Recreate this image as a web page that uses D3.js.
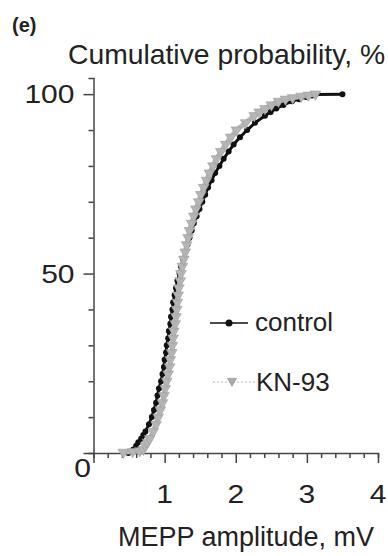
<!DOCTYPE html>
<html>
<head>
<meta charset="utf-8">
<script src="https://cdn.jsdelivr.net/npm/d3@7"></script>
<style>
    body { margin: 0; background: #fff; }
    svg text { font-family: "Liberation Sans", Arial, sans-serif; fill: #222; }
</style>
</head>
<body>
<div id="chart"></div>
<script>
/*
 * MEPP amplitude (mV) and cumulative probability (%), control.
 */
var controlAmplitude = [0.49, 0.56, 0.60, 0.63, 0.67, 0.70, 0.73, 0.78, 0.82, 0.85,
    0.88, 0.90, 0.92, 0.95, 0.97, 0.99, 1.00, 1.02, 1.03, 1.05,
    1.06, 1.08, 1.09, 1.11, 1.12, 1.14, 1.16, 1.18, 1.21, 1.23,
    1.26, 1.29, 1.32, 1.35, 1.38, 1.41, 1.45, 1.49, 1.53, 1.57,
    1.61, 1.66, 1.71, 1.77, 1.83, 1.90, 1.97, 2.06, 2.16, 2.27,
    2.41, 2.49, 2.57, 2.67, 2.79, 2.89, 2.99, 3.07, 3.12, 3.50];
var controlPercent = [0, 1, 2, 3, 4, 5, 6, 8, 10, 12,
    14, 16, 18, 20, 22, 24, 26, 28, 30, 32,
    34, 36, 38, 40, 42, 44, 46, 48, 50, 52,
    54, 56, 58, 60, 62, 64, 66, 68, 70, 72,
    74, 76, 78, 80, 82, 84, 86, 88, 90, 92,
    94, 95, 96, 97, 98, 98.6, 99.2, 99.6, 99.9, 100];
/*
 * Same for KN-93.
 */
var kn93Amplitude = [0.42, 0.55, 0.65, 0.70, 0.73, 0.76, 0.79, 0.84, 0.88, 0.91,
    0.94, 0.97, 0.99, 1.01, 1.03, 1.05, 1.07, 1.08, 1.10, 1.11,
    1.12, 1.13, 1.15, 1.16, 1.17, 1.18, 1.19, 1.20, 1.22, 1.23,
    1.25, 1.27, 1.29, 1.31, 1.33, 1.35, 1.38, 1.41, 1.44, 1.48,
    1.51, 1.55, 1.59, 1.63, 1.68, 1.73, 1.79, 1.86, 1.93, 2.01,
    2.14, 2.26, 2.33, 2.41, 2.50, 2.60, 2.70, 2.80, 2.92, 3.02, 3.12];
var kn93Percent = [0.2, 0.4, 0.6, 1, 2, 3, 4, 6, 8, 10,
    12, 14, 16, 18, 20, 22, 24, 26, 28, 30,
    32, 34, 36, 38, 40, 42, 44, 46, 48, 50,
    52, 54, 56, 58, 60, 62, 64, 66, 68, 70,
    72, 74, 76, 78, 80, 82, 84, 86, 88, 90,
    92, 94, 95, 96, 97, 98, 98.6, 99, 99.4, 99.7, 100];

var xTicks = [1, 2, 3, 4];
var yTicks = [0, 50, 100];
var seriesNames = ['control', 'KN-93'];


function CumulativeChart() {
    this._width = 388;
    this._height = 556;
    this._xScale = d3.scaleLinear().domain([0, 4]).range([93.5, 378]);
    this._yScale = d3.scaleLinear().domain([0, 104.5]).range([453, 78]);
    this._line = d3.line()
        .x(d => this._xScale(d.x))
        .y(d => this._yScale(d.y));
    this._triangle = d3.symbol().type(d3.symbolTriangle).size(50);
    this._legendTriangle = d3.symbol().type(d3.symbolTriangle).size(38);
}


CumulativeChart.prototype._zip = function(xs, ys) {

    return xs.map((x, i) => ({x: x, y: ys[i]}));
};


CumulativeChart.prototype.renderTo = function(selection) {

    var x = this._xScale, y = this._yScale;

    this._svg = d3.select(selection).append('svg')
        .attr('width', this._width)
        .attr('height', this._height);
    /*
     * Panel letter and axis titles.
     */
    this._svg.append('text')
        .attr('x', 12).attr('y', 32)
        .attr('font-size', 20).attr('font-weight', 'bold')
        .text('(e)');

    this._svg.append('text')
        .attr('x', 68).attr('y', 64)
        .attr('font-size', 28.3)
        .text('Cumulative probability, %');

    this._svg.append('text')
        .attr('x', 118).attr('y', 546)
        .attr('font-size', 27)
        .text('MEPP amplitude, mV');
    /*
     * Axes.
     */
    var xAxis = d3.axisBottom(x)
        .tickValues(d3.range(0, 4.01, 0.2))
        .tickSize(5)
        .tickFormat('');

    var gx = this._svg.append('g')
        .attr('transform', 'translate(0,' + y(0) + ')')
        .call(xAxis);
    gx.selectAll('.tick line')
        .attr('y2', d => Math.abs(d - Math.round(d)) < 1e-6 ? 10 : 5);

    gx.selectAll('.xlabel')
        .data(xTicks)
        .enter().append('text')
        .attr('class', 'xlabel')
        .attr('text-anchor', 'middle')
        .attr('font-size', 25)
        .attr('transform', d => 'translate(' + x(d) + ',50) scale(1.2,1)')
        .text(d => d);

    var yAxis = d3.axisLeft(y)
        .tickValues(d3.range(0, 101, 10))
        .tickSize(5)
        .tickFormat('');

    var gy = this._svg.append('g')
        .attr('transform', 'translate(' + x(0) + ',0)')
        .call(yAxis);
    gy.selectAll('.tick line')
        .attr('x2', d => d % 50 === 0 ? -10 : -5);

    gy.selectAll('.ylabel')
        .data(yTicks)
        .enter().append('text')
        .attr('class', 'ylabel')
        .attr('text-anchor', d => d === 0 ? 'middle' : 'end')
        .attr('font-size', 25)
        .attr('transform', d => d === 0
            ? 'translate(-11,' + (y(0) + 24) + ') scale(1.2,1)'
            : 'translate(-19,' + (y(d) + 9) + ') scale(1.2,1)')
        .text(d => d);

    this._svg.selectAll('.domain, .tick line')
        .attr('stroke', '#444')
        .attr('stroke-width', 1.5);
    this._svg.selectAll('.domain').attr('fill', 'none');
    /*
     * Control series.
     */
    var control = this._zip(controlAmplitude, controlPercent);
    var kn93 = this._zip(kn93Amplitude, kn93Percent);

    this._svg.append('path')
        .attr('d', this._line(control))
        .attr('fill', 'none')
        .attr('stroke', '#111')
        .attr('stroke-width', 3);

    this._svg.append('g').selectAll('circle')
        .data(control)
        .enter().append('circle')
        .attr('cx', d => x(d.x))
        .attr('cy', d => y(d.y))
        .attr('r', 3)
        .attr('fill', '#111');
    /*
     * KN-93 series.
     */
    this._svg.append('path')
        .attr('d', this._line(kn93))
        .attr('fill', 'none')
        .attr('stroke', '#b8b8b8')
        .attr('stroke-width', 5);

    this._svg.append('g').selectAll('path')
        .data(kn93)
        .enter().append('path')
        .attr('d', this._triangle)
        .attr('transform', d => 'translate(' + x(d.x) + ',' + y(d.y) + ') rotate(180)')
        .attr('fill', '#b5b5b5')
        .attr('stroke', '#a0a0a0')
        .attr('stroke-width', 0.6);
    /*
     * Legend.
     */
    var legend = this._svg.append('g');

    legend.append('line')
        .attr('x1', 210).attr('x2', 248)
        .attr('y1', 323).attr('y2', 323)
        .attr('stroke', '#111').attr('stroke-width', 1.5);
    legend.append('circle')
        .attr('cx', 229).attr('cy', 323).attr('r', 3.5)
        .attr('fill', '#111');
    legend.append('text')
        .attr('x', 255).attr('y', 331)
        .attr('font-size', 26)
        .text(seriesNames[0]);

    legend.append('line')
        .attr('x1', 213).attr('x2', 255)
        .attr('y1', 382).attr('y2', 382)
        .attr('stroke', '#bbb').attr('stroke-width', 1.2)
        .attr('stroke-dasharray', '2,2');
    legend.append('path')
        .attr('d', this._legendTriangle)
        .attr('transform', 'translate(232,381) rotate(180)')
        .attr('fill', '#aaa')
        .attr('stroke', '#999')
        .attr('stroke-width', 0.6);
    legend.append('text')
        .attr('x', 256).attr('y', 391)
        .attr('font-size', 26)
        .text(seriesNames[1]);

    return this;
};


new CumulativeChart().renderTo('#chart');
</script>
</body>
</html>
